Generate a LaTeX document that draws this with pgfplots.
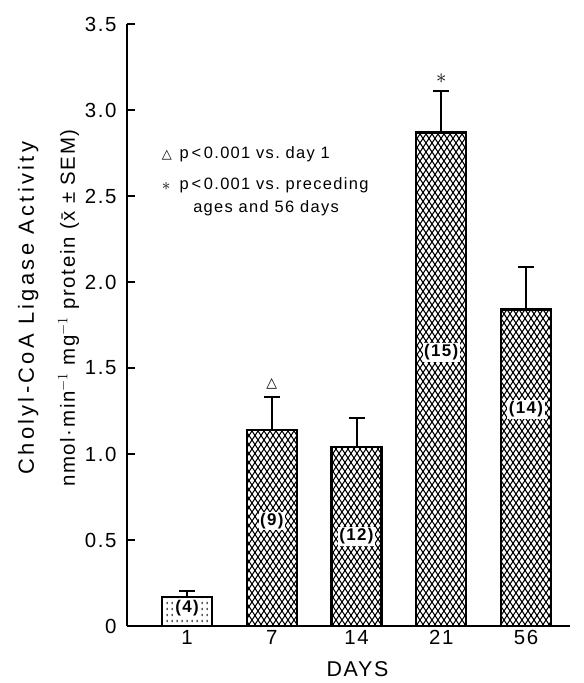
\documentclass[border=0pt]{standalone}
\usepackage{fontspec}
\setmainfont{Liberation Sans}
\newfontfamily\lab{Liberation Sans}[LetterSpace=8]
\newfontfamily\wide{Liberation Sans}[LetterSpace=15]
\newfontfamily\sym{DejaVu Sans}
\usepackage{pgfplots}
\pgfplotsset{compat=1.18}
\usetikzlibrary{patterns}

% diamond mesh fill of the bars
\pgfdeclarepatternformonly{mesh}{\pgfqpoint{-1bp}{-1bp}}{\pgfqpoint{7bp}{10bp}}{\pgfqpoint{6bp}{9bp}}{
  \pgfsetlinewidth{1.1bp}
  \pgfpathmoveto{\pgfqpoint{0bp}{0bp}}\pgfpathlineto{\pgfqpoint{3bp}{4.5bp}}\pgfpathlineto{\pgfqpoint{0bp}{9bp}}
  \pgfpathmoveto{\pgfqpoint{6bp}{0bp}}\pgfpathlineto{\pgfqpoint{3bp}{4.5bp}}\pgfpathlineto{\pgfqpoint{6bp}{9bp}}
  \pgfusepath{stroke}}
% lighter fill of the day 1 bar
\pgfdeclarepatternformonly{speck}{\pgfqpoint{0bp}{0bp}}{\pgfqpoint{5bp}{6bp}}{\pgfqpoint{5bp}{6bp}}{
  \pgfsetlinewidth{1bp}
  \pgfpathmoveto{\pgfqpoint{2.5bp}{1bp}}\pgfpathlineto{\pgfqpoint{2.5bp}{3.5bp}}
  \pgfusepath{stroke}}

\pgfplotstableread{
x y e
0 0.17 0.035
}\dayone
\pgfplotstableread{
x y e
1 1.14 0.19
2 1.04 0.17
3 2.87 0.24
4 1.84 0.25
}\later

\begin{document}
\begin{tikzpicture}
\begin{axis}[
    scale only axis,
    width=443bp, height=602bp,
    xmin=-0.71, xmax=4.52,
    ymin=0, ymax=3.5,
    axis lines=left,
    axis line style={-, line width=2bp},
    every outer x axis line/.append style={-},
    every outer y axis line/.append style={-},
    xtick={0,1,2,3,4},
    xticklabels={1,7,14,21,56},
    xtick style={draw=none},
    ytick={0,0.5,1,1.5,2,2.5,3,3.5},
    yticklabels={0,0.5,1.0,1.5,2.0,2.5,3.0,3.5},
    tick align=inside,
    major tick length=8bp,
    ytick style={line width=1.5bp, black},
    ticklabel style={font=\lab\fontsize{20.5}{22}\selectfont},
    yticklabel style={xshift=-7bp},
    xticklabel style={yshift=-1bp},
    xlabel={DAYS},
    xlabel style={font=\lab\fontsize{21.5}{23}\selectfont, xshift=9bp, yshift=-10bp},
    ylabel={{\wide\fontsize{22}{41}\selectfont Cholyl-CoA Ligase Activity}\\
      {\lab\fontsize{20.5}{41}\selectfont nmol·min$^{-1}$ mg$^{-1}$ protein (\={x} ± SEM)}},
    ylabel style={font=\lab\fontsize{22}{41}\selectfont, align=center,
      at={(axis description cs:-0.177,0.528)}, anchor=center},
    clip=false,
]
\addplot[ybar, bar width=0.59, bar shift=0pt, draw=black, line width=2.4bp,
    pattern=speck,
    error bars/.cd, y dir=plus, y explicit,
    error bar style={line width=2bp, black},
    error mark options={black, line width=2bp, mark size=8bp, rotate=90}]
  table[x=x, y=y, y error=e] {\dayone};
\addplot[ybar, bar width=0.59, bar shift=0pt, draw=black, line width=2.4bp,
    pattern=mesh,
    error bars/.cd, y dir=plus, y explicit,
    error bar style={line width=2bp, black},
    error mark options={black, line width=2bp, mark size=8bp, rotate=90}]
  table[x=x, y=y, y error=e] {\later};

% group sizes inside the bars
\begin{scope}[every node/.style={fill=white, inner sep=1.5bp, font=\lab\bfseries\fontsize{17}{18}\selectfont}]
\node at (axis cs:0,0.105) {(4)};
\node at (axis cs:1,0.61) {(9)};
\node at (axis cs:2,0.52) {(12)};
\node at (axis cs:3,1.59) {(15)};
\node at (axis cs:4,1.26) {(14)};
\end{scope}

% significance marks
\node[font=\sym\fontsize{14}{15}\selectfont] at (axis cs:1,1.41) {△};
\node[font=\fontsize{22}{22}\selectfont] at (axis cs:3,3.18) {$\ast$};

% key
\begin{scope}[every node/.style={font=\lab\fontsize{16.5}{18}\selectfont, anchor=west, inner sep=0pt}]
\node[font=\sym\fontsize{13}{14}\selectfont] at (axis cs:-0.30,2.74) {△};
\node at (axis cs:-0.09,2.74) {p\,<\,0.001 vs.\ day 1};
\node[font=\fontsize{19}{19}\selectfont] at (axis cs:-0.30,2.555) {$\ast$};
\node at (axis cs:-0.09,2.56) {p\,<\,0.001 vs.\ preceding};
\node at (axis cs:0.07,2.43) {ages and 56 days};
\end{scope}
\end{axis}
\pgfresetboundingbox
\path[use as bounding box] ([xshift=-127bp,yshift=-57bp]current axis.south west)
  rectangle ([xshift=14bp,yshift=24bp]current axis.north east);
\end{tikzpicture}
\end{document}
